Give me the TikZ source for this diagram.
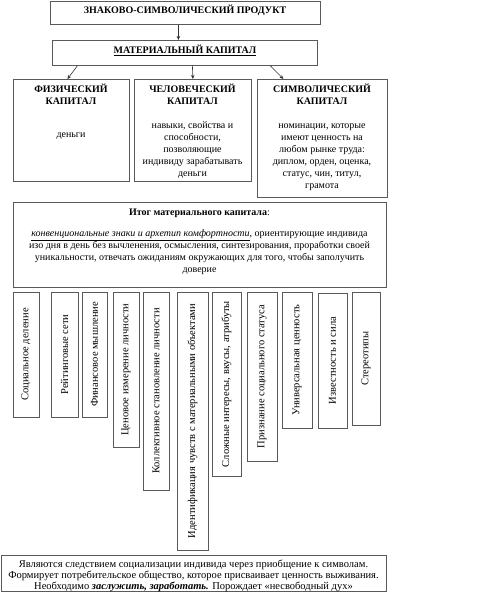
\documentclass[tikz,border=0pt]{standalone}
\usepackage{fontspec}
\setmainfont{Liberation Serif}
\usetikzlibrary{arrows.meta}
\begin{document}
\begin{tikzpicture}[x=1pt,y=-1pt,
  box/.style={draw=black!65, line width=0.8pt, inner sep=0pt, anchor=north west},
  txt/.style={inner sep=0pt, align=center, anchor=north, font=\fontsize{10}{12}\selectfont, execute at begin node=\strut},
  lbl/.style={inner sep=0pt, anchor=base, font=\fontsize{10}{12}\selectfont\bfseries},
  vbox/.style={draw=black!65, line width=0.8pt, inner sep=0pt, rotate=90, font=\fontsize{10.5}{11}\selectfont},
  arr/.style={draw=black!80, line width=0.6pt, -{Stealth[length=4pt,width=3.5pt]}}]
\useasboundingbox (0,0) rectangle (490,600);

% top
\node[box, minimum width=270, minimum height=23.5] (top) at (50,0.5) {};
\node[lbl] (toptxt) at (185,13.5) {ЗНАКОВО-СИМВОЛИЧЕСКИЙ ПРОДУКТ};
\node[box, minimum width=265, minimum height=25] (mat) at (52,40) {};
\node[lbl] (mattxt) at (185,53.5) {\underline{МАТЕРИАЛЬНЫЙ КАПИТАЛ}};

% three capital boxes
\node[box, minimum width=116, minimum height=102] (b1) at (13,79) {};
\node[box, minimum width=117, minimum height=102] (b2) at (134,79) {};
\node[box, minimum width=130, minimum height=118] (b3) at (257,79) {};

\node[txt] (b1t) at (71,83.5) {\bfseries ФИЗИЧЕСКИЙ\\ \bfseries КАПИТАЛ\\[21pt] деньги};
\node[txt] (b2t) at (192.5,83.5) {\bfseries ЧЕЛОВЕЧЕСКИЙ\\ \bfseries КАПИТАЛ\\[12pt] навыки, свойства и\\ способности,\\ позволяющие\\ индивиду зарабатывать\\ деньги};
\node[txt] (b3t) at (322,83.5) {\bfseries СИМВОЛИЧЕСКИЙ\\ \bfseries КАПИТАЛ\\[12pt] номинации, которые\\ имеют ценность на\\ любом рынке труда:\\ диплом, орден, оценка,\\ статус, чин, титул,\\ грамота};

\draw[arr] ([xshift=-7pt]top.south) -- ([xshift=-6.5pt]mat.north);
\draw[arr] ([xshift=-107.5pt]mat.south) -- ([xshift=-4pt]b1.north);
\draw[arr] ([xshift=7.5pt]mat.south) -- (b2.north);
\draw[arr] ([xshift=85.5pt]mat.south) -- ([xshift=-39pt]b3.north);

% itog
\node[box, minimum width=373, minimum height=85] (itog) at (13,202) {};
\node[txt] (itogt) at (199.5,208.6) {\textbf{Итог материального капитала}:\\[9pt]
\underline{\textit{конвенциональные знаки и архетип комфортности}}, ориентирующие индивида\\
изо дня в день без вычленения, осмысления, синтезирования, проработки своей\\
уникальности, отвечать ожиданиям окружающих для того, чтобы заполучить\\
доверие};

% vertical boxes
\node[vbox, minimum width=125, minimum height=26] (v1) at (26,354.5) {Социальное деление};
\node[vbox, minimum width=125, minimum height=27] (v2) at (64.5,354.5) {Рейтинговые сети};
\node[vbox, minimum width=125, minimum height=25] (v3) at (94.5,354.5) {Финансовое мышление};
\node[vbox, minimum width=155, minimum height=26] (v4) at (126,369.5) {Ценовое измерение личности};
\node[vbox, minimum width=198, minimum height=26] (v5) at (156,391) {Коллективное становление личности};
\node[vbox, minimum width=258, minimum height=31] (v6) at (192.5,421) {Идентификация чувств с материальными объектами};
\node[vbox, minimum width=184, minimum height=29] (v7) at (226.5,384) {Сложные интересы, вкусы, атрибуты};
\node[vbox, minimum width=169, minimum height=30] (v8) at (262,376.5) {Признание социального статуса};
\node[vbox, minimum width=136, minimum height=30] (v9) at (297,360) {Универсальная ценность};
\node[vbox, minimum width=135, minimum height=29] (v10) at (332.5,360.5) {Известность и сила};
\node[vbox, minimum width=133, minimum height=28] (v11) at (366,358.5) {Стереотипы};

% bottom
\node[box, minimum width=385, minimum height=36] (bot) at (1,555) {};
\node[txt, font=\fontsize{10.5}{11}\selectfont] (bott) at (193.5,560) {Являются следствием социализации индивида через приобщение к символам.\\
Формирует потребительское общество, которое присваивает ценность выживания.\\
Необходимо \textbf{\textit{заслужить, заработать.}} Порождает «несвободный дух»};
\end{tikzpicture}
\end{document}
